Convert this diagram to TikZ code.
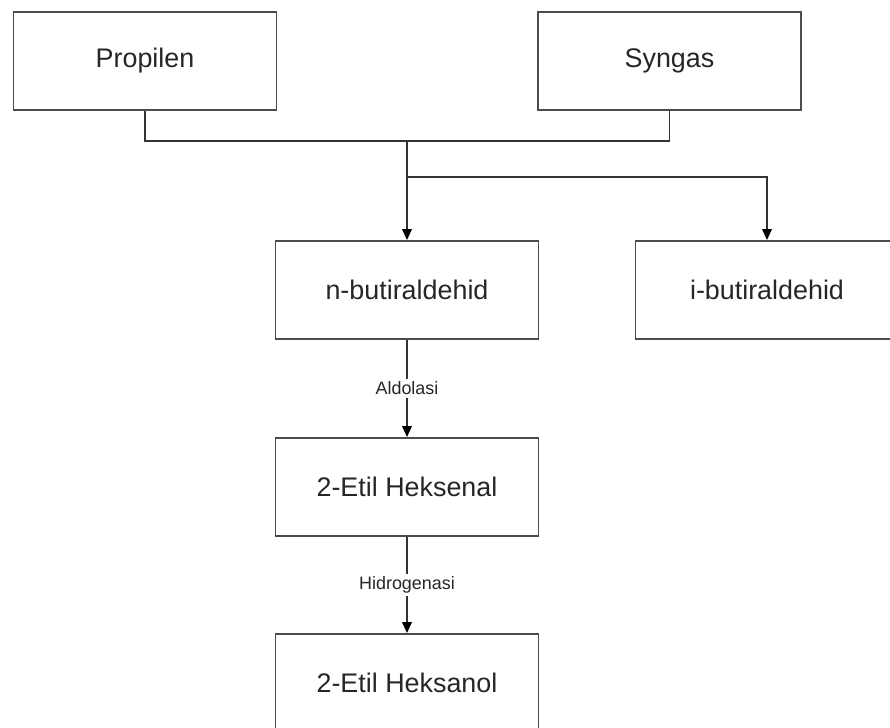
\documentclass[tikz,border=0pt]{standalone}
\usepackage{fontspec}
\setmainfont{Liberation Sans}
\usetikzlibrary{arrows.meta}

\begin{document}
\begin{tikzpicture}[
	box/.style = {draw = black!70, line width = 1pt, minimum width = 5.26cm, minimum height = 1.96cm, text = black!85, font = \fontsize{15.3}{18}\selectfont},
	conn/.style = {draw = black!80, line width = 1pt},
	arr/.style = {conn, -{Triangle[length=2.2mm,width=1.9mm,color=black]}},
	step label/.style = {fill = white, inner sep = 1.5pt, text = black!85, font = \fontsize{10.2}{12}\selectfont}
	]
	\useasboundingbox (0,0) rectangle (17.8,-14.56);
	\node[box] (prop) at (2.9,-1.22) {Propilen};
	\node[box] (syn) at (13.39,-1.22) {Syngas};
	\node[box] (nbut) at (8.14,-5.8) {n-butiraldehid};
	\node[box] (ibut) at (15.34,-5.8) {i-butiraldehid};
	\node[box] (hksenal) at (8.14,-9.74) {2-Etil Heksenal};
	\node[box] (hksanol) at (8.14,-13.66) {2-Etil Heksanol};
	\coordinate (join) at (8.14,-2.82);
	\coordinate (split) at (8.14,-3.54);
	\draw[conn] (prop.south) |- (join);
	\draw[conn] (syn.south) |- (join);
	\draw[arr] (join) -- (nbut.north);
	\draw[arr] (split) -| (ibut.north);
	\draw[arr] (nbut.south) -- node[step label] {Aldolasi} (hksenal.north);
	\draw[arr] (hksenal.south) -- node[step label] {Hidrogenasi} (hksanol.north);
\end{tikzpicture}
\end{document}
